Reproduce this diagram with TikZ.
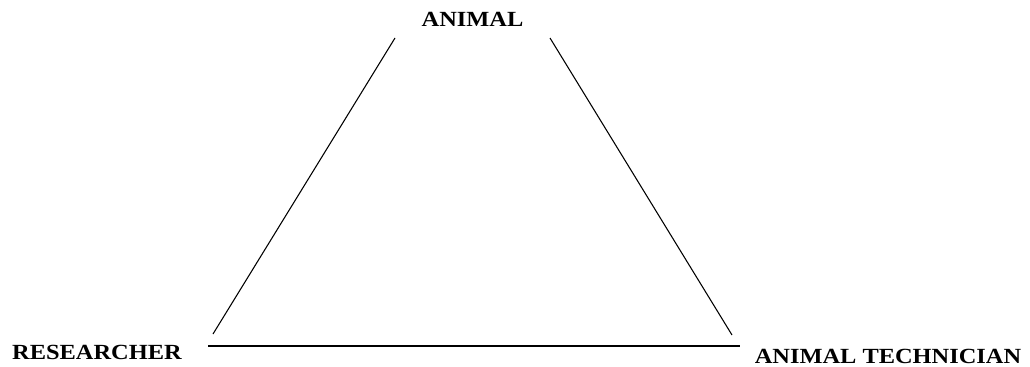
\documentclass[tikz,border=0pt]{standalone}
\usepackage{fontspec}
\setmainfont{Liberation Serif}[FakeStretch=1.13]
\begin{document}
\begin{tikzpicture}[
  x=0.75pt, y=-0.75pt,
  % role labels
  role/.style={font=\fontsize{16.2}{19}\selectfont\bfseries, inner sep=0pt},
  % sides of the triangle
  side/.style={line width=0.8pt, draw=black}
]
\useasboundingbox (0,0) rectangle (1030,367);

%% Roles
\node[role] (animal) at (472.5, 19) {ANIMAL};
\node[role] (researcher) at (97, 352.5) {RESEARCHER};
\node[role] (technician) at (888, 356.5) {ANIMAL TECHNICIAN};

%% End points of the sides
\coordinate (animalL) at (395, 38);
\coordinate (animalR) at (550, 38);
\coordinate (resTop) at (213, 334);
\coordinate (resRight) at (208, 346);
\coordinate (techTop) at (732, 335);
\coordinate (techLeft) at (740, 346);

%% Sides
\draw[side] (animalL) -- (resTop);
\draw[side] (animalR) -- (techTop);
\draw[side] (resRight) -- (techLeft);

\end{tikzpicture}
\end{document}
